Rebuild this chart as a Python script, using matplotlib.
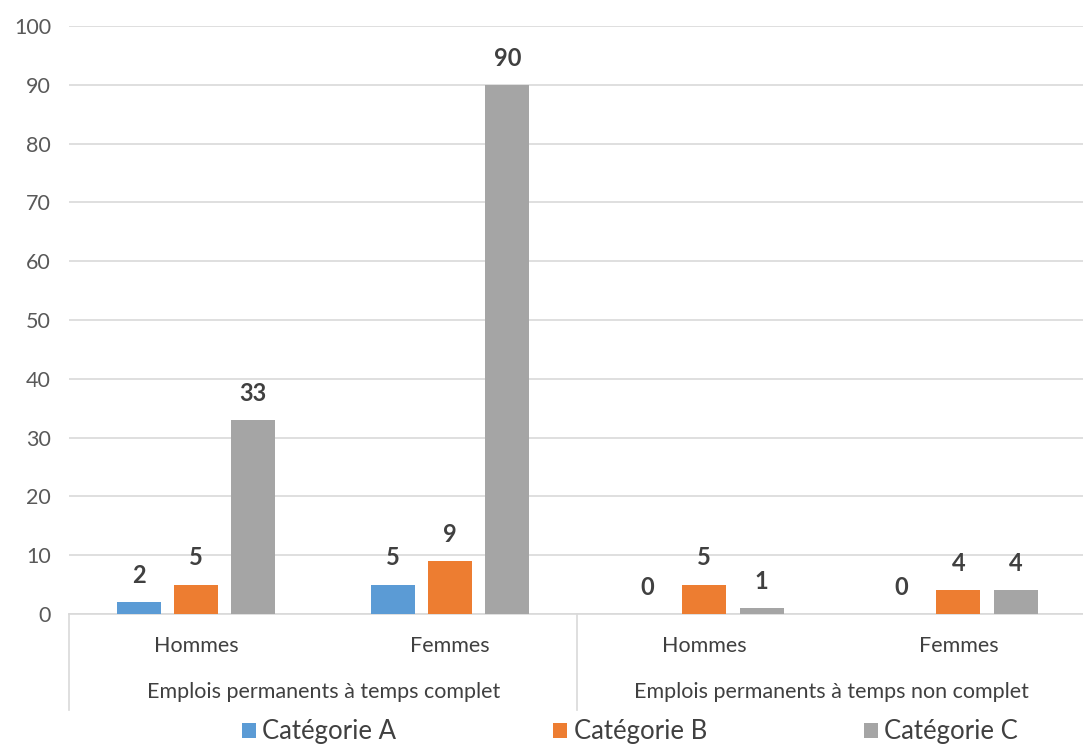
import matplotlib.pyplot as plt
from matplotlib.patches import Patch

plt.rcParams['font.family'] = ['Lato', 'DejaVu Sans']

# Données
sous_categories = ['Hommes', 'Femmes', 'Hommes', 'Femmes']
groupes = ['Emplois permanents à temps complet', 'Emplois permanents à temps non complet']
series = ['Catégorie A', 'Catégorie B', 'Catégorie C']
cat_a = [2, 5, 0, 0]
cat_b = [5, 9, 5, 4]
cat_c = [33, 90, 1, 4]
y_ticks = list(range(0, 101, 10))

couleurs = ['#5B9BD5', '#ED7D31', '#A5A5A5']
gris_texte = '#595959'
gris_grille = '#D9D9D9'

fig = plt.figure(figsize=(10.83, 7.45), dpi=100)
ax = fig.add_axes([69 / 1083, 131 / 745, 1 - 69 / 1083, 588 / 745])

largeur = 0.173
pas = 0.225
x = list(range(len(sous_categories)))

for i, (valeurs, couleur) in enumerate(zip([cat_a, cat_b, cat_c], couleurs)):
    pos = [xi + (i - 1) * pas for xi in x]
    ax.bar(pos, valeurs, width=largeur, color=couleur, zorder=3)
    for p, v in zip(pos, valeurs):
        ax.annotate(str(v), (p, v), xytext=(0, 11), textcoords='offset points',
                    ha='center', va='bottom', fontsize=17, fontweight='bold',
                    color='#404040')

ax.set_xlim(-0.5, 3.49)
ax.set_ylim(0, 100)
ax.set_yticks(y_ticks)
ax.yaxis.grid(True, color=gris_grille, lw=1.2, zorder=0)
ax.tick_params(axis='y', length=0, labelsize=15.5, labelcolor=gris_texte, pad=13)
ax.set_xticks([])
for s in ['top', 'right', 'left']:
    ax.spines[s].set_visible(False)
ax.spines['bottom'].set_color(gris_grille)
ax.spines['bottom'].set_linewidth(1.2)

# Axe des catégories à deux niveaux
trans = ax.get_xaxis_transform()
for xi, nom in zip(x, sous_categories):
    ax.text(xi, -0.054, nom, transform=trans, ha='center', va='center',
            fontsize=15.5, color='#404040')
for g, nom in enumerate(groupes):
    ax.text(2 * g + 0.5, -0.133, nom, transform=trans, ha='center', va='center',
            fontsize=15.5, color='#404040')
for xb in [-0.5, 1.5, 3.5]:
    ax.plot([xb, xb], [0, -0.163], transform=trans, color=gris_grille,
            lw=1.2, clip_on=False)

poignees = [Patch(facecolor=c, edgecolor='none') for c in couleurs]
fig.legend(poignees, series, loc='center', bbox_to_anchor=(630 / 1083, 13 / 745),
           ncol=3, frameon=False, fontsize=18.5, handlelength=0.55, handleheight=0.55,
           handletextpad=0.25, columnspacing=6.1, labelcolor='#404040')

fig.savefig('out.png', dpi=100)
